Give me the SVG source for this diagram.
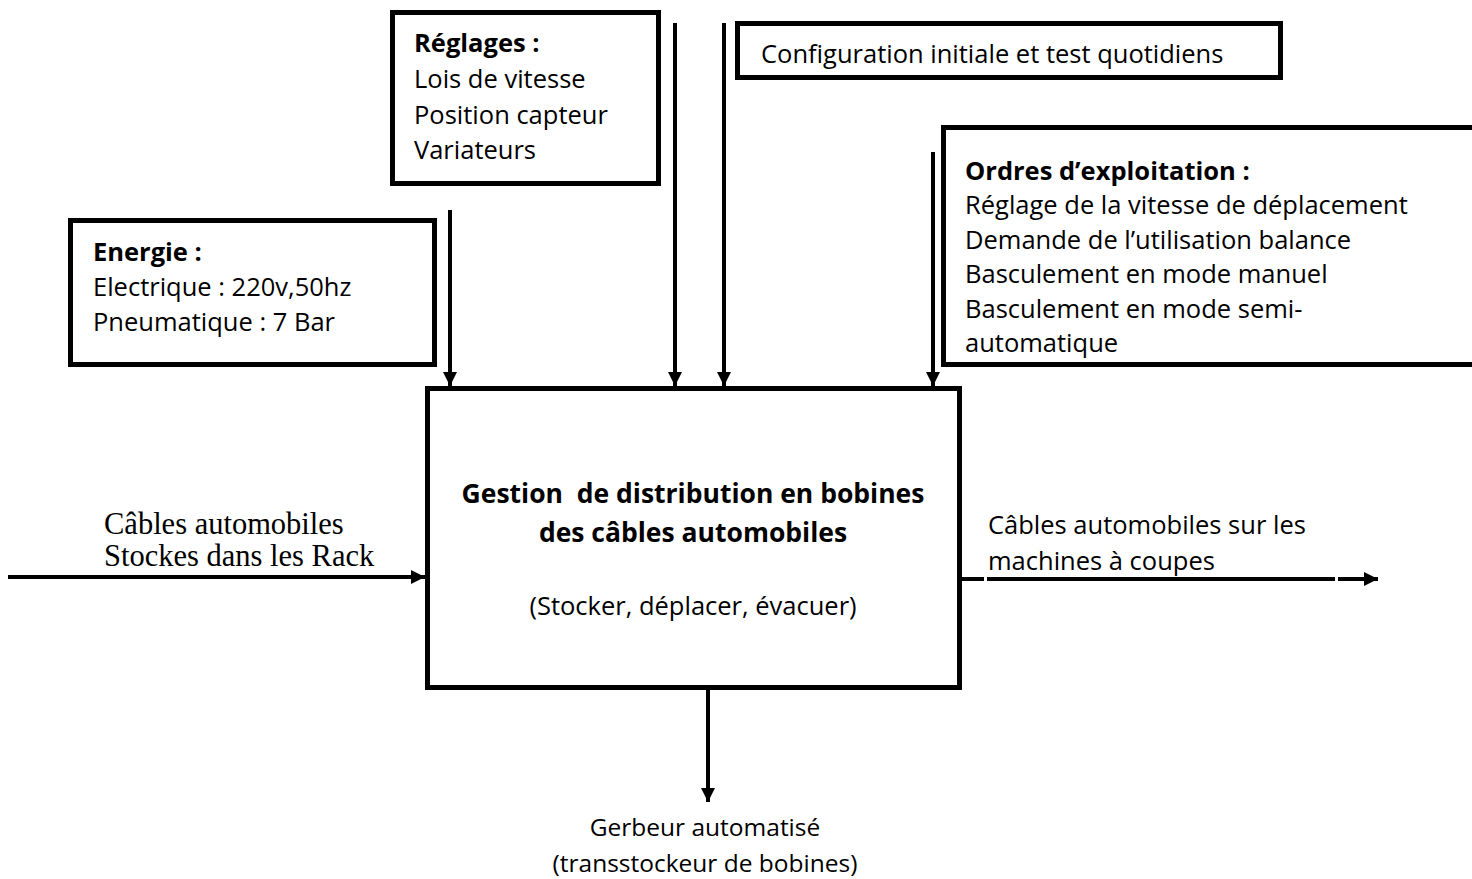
<svg xmlns="http://www.w3.org/2000/svg" width="1472" height="879" viewBox="0 0 1472 879">
  <style>
    .box { fill: #ffffff; stroke: #000000; stroke-width: 5; }
    .txt { font-family: "Open Sans", Lato, sans-serif; font-size: 25.5px; fill: #000000; }
    .b { font-weight: bold; }
    .main { font-size: 26.5px; }
    .small { font-size: 24.5px; }
    .serif { font-family: "Liberation Serif", serif; font-size: 30.5px; fill: #000000; }
    .wire { stroke: #000000; stroke-width: 4; fill: none; }
  </style>
  <defs>
    <marker id="arrow" viewBox="0 0 10 10" refX="10" refY="5" markerWidth="3.6" markerHeight="3.6" orient="auto" markerUnits="strokeWidth">
      <path d="M0,0 L10,5 L0,10 Z" fill="#000000"/>
    </marker>
  </defs>

  <!-- Connectors -->
  <g id="connectors">
    <line class="wire" x1="450" y1="210" x2="450" y2="386" marker-end="url(#arrow)"/>
    <line class="wire" x1="675" y1="23" x2="675" y2="386" marker-end="url(#arrow)"/>
    <line class="wire" x1="724" y1="23" x2="724" y2="386" marker-end="url(#arrow)"/>
    <line class="wire" x1="933" y1="152" x2="933" y2="386" marker-end="url(#arrow)"/>
    <line class="wire" x1="8" y1="577" x2="425" y2="577" marker-end="url(#arrow)"/>
    <line class="wire" x1="962" y1="579" x2="984" y2="579"/>
    <line class="wire" x1="987" y1="579" x2="1335" y2="579"/>
    <line class="wire" x1="1338" y1="579" x2="1378" y2="579" marker-end="url(#arrow)"/>
    <line class="wire" x1="708" y1="690" x2="708" y2="802" marker-end="url(#arrow)"/>
  </g>

  <!-- Réglages -->
  <g id="reglages">
    <rect class="box" x="392.5" y="12.5" width="266" height="171"/>
    <text class="txt b" x="414" y="52">Réglages :</text>
    <text class="txt" x="414" y="88">Lois de vitesse</text>
    <text class="txt" x="414" y="124">Position capteur</text>
    <text class="txt" x="414" y="159">Variateurs</text>
  </g>

  <!-- Configuration -->
  <g id="configuration">
    <rect class="box" x="737.5" y="23.5" width="543" height="54"/>
    <text class="txt" x="761" y="63">Configuration initiale et test quotidiens</text>
  </g>

  <!-- Ordres d'exploitation -->
  <g id="ordres">
    <rect class="box" x="943.5" y="127.5" width="540" height="237"/>
    <text class="txt b" x="965" y="180">Ordres d’exploitation :</text>
    <text class="txt" x="965" y="214">Réglage de la vitesse de déplacement</text>
    <text class="txt" x="965" y="249">Demande de l’utilisation balance</text>
    <text class="txt" x="965" y="283">Basculement en mode manuel</text>
    <text class="txt" x="965" y="318">Basculement en mode semi-</text>
    <text class="txt" x="965" y="352">automatique</text>
  </g>

  <!-- Energie -->
  <g id="energie">
    <rect class="box" x="70.5" y="220.5" width="364" height="144"/>
    <text class="txt b" x="93" y="261">Energie :</text>
    <text class="txt" x="93" y="296">Electrique : 220v,50hz</text>
    <text class="txt" x="93" y="331">Pneumatique : 7 Bar</text>
  </g>

  <!-- Main function -->
  <g id="fonction">
    <rect class="box" x="427.5" y="388.5" width="532" height="299"/>
    <text class="txt b main" x="693" y="503" text-anchor="middle" xml:space="preserve">Gestion  de distribution en bobines</text>
    <text class="txt b main" x="693" y="542" text-anchor="middle">des câbles automobiles</text>
    <text class="txt" x="693" y="615" text-anchor="middle">(Stocker, déplacer, évacuer)</text>
  </g>

  <!-- Input label -->
  <g id="entree">
    <text class="serif" x="104" y="534">Câbles automobiles</text>
    <text class="serif" x="104" y="566">Stockes dans les Rack</text>
  </g>

  <!-- Output label -->
  <g id="sortie">
    <text class="txt" x="988" y="534">Câbles automobiles sur les</text>
    <text class="txt" x="988" y="570">machines à coupes</text>
  </g>

  <!-- Mechanism label -->
  <g id="mecanisme">
    <text class="txt small" x="705" y="836" text-anchor="middle">Gerbeur automatisé</text>
    <text class="txt small" x="705" y="872" text-anchor="middle">(transstockeur de bobines)</text>
  </g>
</svg>
